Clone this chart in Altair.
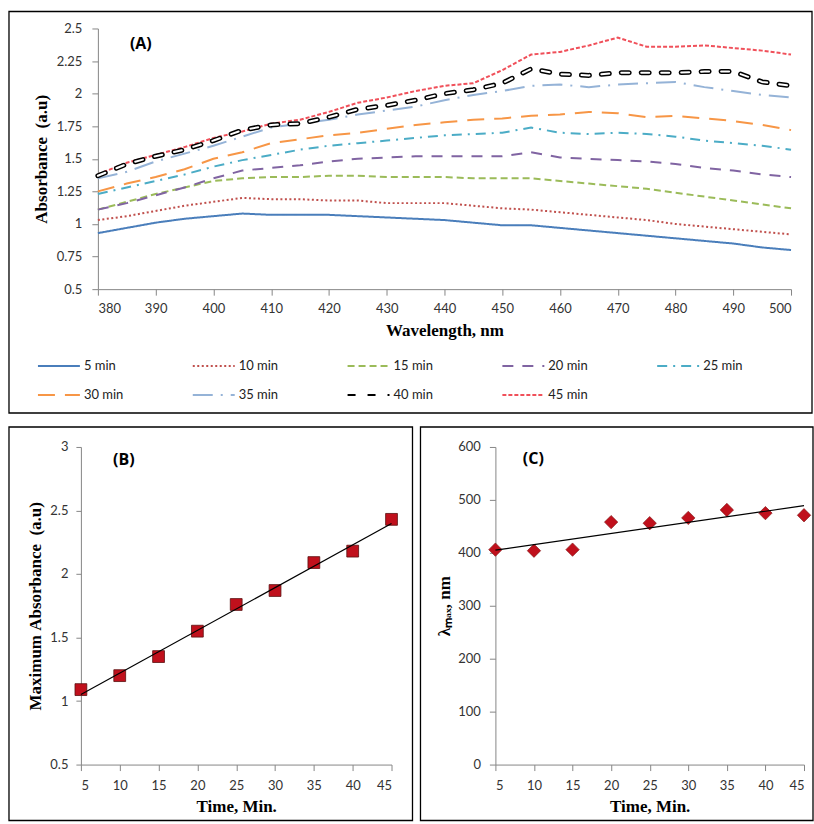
import altair as alt
import pandas as pd

# ---------------- data ----------------
WAVELENGTHS = list(range(380, 501, 5))
SERIES = ["5 min", "10 min", "15 min", "20 min", "25 min",
          "30 min", "35 min", "40 min", "45 min"]

ABS_5 = [0.93, 0.97, 1.01, 1.04, 1.06, 1.08, 1.07, 1.07, 1.07, 1.06, 1.05, 1.04, 1.03,
         1.01, 0.99, 0.99, 0.97, 0.95, 0.93, 0.91, 0.89, 0.87, 0.85, 0.82, 0.80]
ABS_10 = [1.03, 1.06, 1.10, 1.14, 1.17, 1.20, 1.19, 1.19, 1.18, 1.18, 1.16, 1.16, 1.16,
          1.14, 1.12, 1.11, 1.09, 1.07, 1.05, 1.03, 1.00, 0.98, 0.96, 0.94, 0.92]
ABS_15 = [1.11, 1.17, 1.23, 1.28, 1.33, 1.35, 1.36, 1.36, 1.37, 1.37, 1.36, 1.36, 1.36,
          1.35, 1.35, 1.35, 1.33, 1.31, 1.29, 1.27, 1.24, 1.21, 1.18, 1.15, 1.12]
ABS_20 = [1.11, 1.16, 1.22, 1.28, 1.35, 1.41, 1.43, 1.45, 1.48, 1.50, 1.51, 1.52, 1.52,
          1.52, 1.52, 1.55, 1.51, 1.50, 1.49, 1.48, 1.46, 1.43, 1.41, 1.38, 1.36]
ABS_25 = [1.23, 1.28, 1.33, 1.38, 1.44, 1.49, 1.53, 1.57, 1.60, 1.62, 1.64, 1.66, 1.68,
          1.69, 1.70, 1.74, 1.70, 1.69, 1.70, 1.69, 1.67, 1.64, 1.62, 1.60, 1.57]
ABS_30 = [1.25, 1.31, 1.36, 1.42, 1.50, 1.55, 1.62, 1.65, 1.68, 1.70, 1.73, 1.76, 1.78,
          1.80, 1.81, 1.83, 1.84, 1.86, 1.85, 1.82, 1.83, 1.81, 1.79, 1.76, 1.72]
ABS_35 = [1.35, 1.40, 1.48, 1.54, 1.60, 1.67, 1.74, 1.77, 1.80, 1.84, 1.87, 1.90, 1.95,
          1.99, 2.02, 2.06, 2.07, 2.05, 2.07, 2.08, 2.09, 2.05, 2.02, 1.99, 1.97]
ABS_40 = [1.37, 1.46, 1.52, 1.57, 1.64, 1.72, 1.76, 1.77, 1.82, 1.88, 1.91, 1.95, 2.00,
          2.03, 2.08, 2.19, 2.15, 2.14, 2.16, 2.16, 2.16, 2.17, 2.17, 2.09, 2.06]
ABS_45 = [1.38, 1.47, 1.53, 1.59, 1.66, 1.71, 1.77, 1.80, 1.86, 1.93, 1.97, 2.02, 2.06,
          2.08, 2.18, 2.30, 2.32, 2.37, 2.43, 2.36, 2.36, 2.37, 2.35, 2.33, 2.30]

TIMES = [5, 10, 15, 20, 25, 30, 35, 40, 45]
MAX_ABS = [1.09, 1.20, 1.35, 1.55, 1.76, 1.87, 2.09, 2.18, 2.43]
LAMBDA_MAX = [406, 404, 406, 458, 456, 466, 481, 475, 471]

A_YTICKS = [0.5, 0.75, 1, 1.25, 1.5, 1.75, 2, 2.25, 2.5]
A_XTICKS = list(range(380, 501, 10))
B_YTICKS = [0.5, 1, 1.5, 2, 2.5, 3]
C_YTICKS = [0, 100, 200, 300, 400, 500, 600]

# ---------------- styles ----------------
COLORS = ["#4A7EBB", "#C0504D", "#9BBB59", "#8064A2", "#4BACC6",
          "#F79646", "#95B3D7", "#000000", "#F0505A"]
DASHES = [[1, 0], [2, 2.5], [7, 4], [11, 9], [10, 6, 2, 6],
          [17, 10], [20, 8, 2, 8], [8, 12], [4, 2]]
WIDTHS = [2, 2, 2.2, 2.5, 2.2, 2.5, 2.2, 2, 2.6]

rows = []
for name, vals in zip(SERIES, [ABS_5, ABS_10, ABS_15, ABS_20, ABS_25,
                               ABS_30, ABS_35, ABS_40, ABS_45]):
    for w, v in zip(WAVELENGTHS, vals):
        rows.append({"wl": w, "abs": v, "series": name})
dfA = pd.DataFrame(rows)
dfB = pd.DataFrame({"t": TIMES, "v": MAX_ABS})
dfC = pd.DataFrame({"t": TIMES, "l": LAMBDA_MAX})
one = pd.DataFrame({"k": [0]})

TICK_FONT = "Lato"
TITLE_FONT = "Liberation Serif"
NB = "\u00a0"

# ---------------- panel A ----------------
WA, HA = 694, 261
xA = alt.X("wl:Q", scale=alt.Scale(domain=[380, 500], nice=False, zero=False),
           axis=alt.Axis(values=A_XTICKS, title="Wavelength, nm", tickSize=6,
                         labelPadding=7, titlePadding=7))
yA = alt.Y("abs:Q", scale=alt.Scale(domain=[0.5, 2.5], nice=False, zero=False),
           axis=alt.Axis(values=A_YTICKS, format=".3~g", title="Absorbance" + NB + NB + "(a.u)",
                         tickSize=6, labelPadding=10, titlePadding=6))

legA = alt.Legend(orient="none", legendX=-61, legendY=316, direction="horizontal",
                  columns=5, title=None, symbolType="stroke", symbolSize=1764,
                  symbolStrokeWidth=2, labelFont=TICK_FONT, labelFontSize=13,
                  labelColor="#222222", columnPadding=65, rowPadding=-38,
                  labelOffset=3, gridAlign="all")

lines = alt.Chart(dfA).mark_line().encode(
    x=xA, y=yA,
    color=alt.Color("series:N", scale=alt.Scale(domain=SERIES, range=COLORS), legend=legA),
    strokeDash=alt.StrokeDash("series:N", scale=alt.Scale(domain=SERIES, range=DASHES), legend=legA),
    strokeWidth=alt.StrokeWidth("series:N", scale=alt.Scale(domain=SERIES, range=WIDTHS), legend=None),
)
d40 = alt.Chart(dfA).transform_filter(alt.datum.series == "40 min")
outer40 = d40.mark_line(color="black", strokeWidth=5, strokeCap="round",
                        strokeDash=[8, 12]).encode(x=xA, y=yA)
inner40 = d40.mark_line(color="white", strokeWidth=2, strokeCap="round",
                        strokeDash=[8, 12]).encode(x=xA, y=yA)

boxA = alt.Chart(one).mark_rect(fillOpacity=0, stroke="black", strokeWidth=1.3).encode(
    x=alt.value(-89), x2=alt.value(715), y=alt.value(-17), y2=alt.value(385))
labA = alt.Chart(one).mark_text(text="(A)", font="Open Sans", fontWeight="bold",
                                fontSize=16, color="black").encode(
    x=alt.value(43), y=alt.value(16))

panelA = alt.layer(boxA, lines, outer40, inner40, labA).properties(width=WA, height=HA)

# ---------------- panel B ----------------
# the plot origin is shared with panel A (x = 97); the x range starts 17 px to its left
SHIFT_B = 17
WB, HB = 294, 318
xB = alt.X("t:Q", scale=alt.Scale(domain=[5, 45], nice=False, zero=False, range=[-SHIFT_B, WB]),
           axis=alt.Axis(values=TIMES, title="Time, Min.", tickSize=6,
                         labelPadding=9, titlePadding=6))
yB = alt.Y("v:Q", scale=alt.Scale(domain=[0.5, 3], nice=False, zero=False),
           axis=alt.Axis(values=B_YTICKS, format=".3~g", offset=SHIFT_B,
                         title="Maximum" + NB + "Absorbance" + NB + NB + "(a.u)",
                         tickSize=5, labelPadding=8, titlePadding=5))
ptsB = alt.Chart(dfB).mark_point(shape="square", filled=True, size=140, fill="#C0101C",
                                 stroke="#5a1010", strokeWidth=0.8, opacity=1).encode(x=xB, y=yB)
fitB = alt.Chart(dfB).transform_regression("t", "v").mark_line(
    color="black", strokeWidth=1.2).encode(x=xB, y=yB)
boxB = alt.Chart(one).mark_rect(fillOpacity=0, stroke="black", strokeWidth=1.3).encode(
    x=alt.value(-89), x2=alt.value(315), y=alt.value(-20), y2=alt.value(374))
labB = alt.Chart(one).mark_text(text="(B)", font="Open Sans", fontWeight="bold",
                                fontSize=16, color="black").encode(
    x=alt.value(26), y=alt.value(13))
panelB = alt.layer(boxB, ptsB, fitB, labB).properties(width=WB, height=HB)

# ---------------- panel C ----------------
WC, HC = 309, 318
xC = alt.X("t:Q", scale=alt.Scale(domain=[5, 45], nice=False, zero=False),
           axis=alt.Axis(values=TIMES, title="Time, Min.", tickSize=6,
                         labelPadding=9, titlePadding=6))
yC = alt.Y("l:Q", scale=alt.Scale(domain=[0, 600], nice=False, zero=True),
           axis=alt.Axis(values=C_YTICKS, title="λₘₐₓ, nm", tickSize=6,
                         labelPadding=9, titlePadding=4))
ptsC = alt.Chart(dfC).mark_point(shape="diamond", filled=True, size=180, fill="#C0101C",
                                 stroke="#7a1010", strokeWidth=0.6, opacity=1).encode(x=xC, y=yC)
fitC = alt.Chart(dfC).transform_regression("t", "l").mark_line(
    color="black", strokeWidth=1.2).encode(x=xC, y=yC)
boxC = alt.Chart(one).mark_rect(fillOpacity=0, stroke="black", strokeWidth=1.3).encode(
    x=alt.value(-75), x2=alt.value(318), y=alt.value(-20), y2=alt.value(374))
labC = alt.Chart(one).mark_text(text="(C)", font="Open Sans", fontWeight="bold",
                                fontSize=16, color="black").encode(
    x=alt.value(38), y=alt.value(12))
panelC = alt.layer(boxC, ptsC, fitC, labC).properties(width=WC, height=HC)

bottom = alt.hconcat(panelB, panelC, spacing=6)
chart = alt.vconcat(panelA, bottom, spacing=12).resolve_scale(
    color="independent", strokeDash="independent", strokeWidth="independent"
).properties(
    padding={"left": 8, "top": 10, "right": 0, "bottom": 0},
    background="white",
).configure_view(stroke=None).configure_axis(
    grid=False, domainColor="#868686", tickColor="#868686", domainWidth=1,
    labelFont=TICK_FONT, labelFontSize=13, labelColor="#333333",
    titleFont=TITLE_FONT, titleFontWeight="bold", titleFontSize=17, titleColor="black",
)

chart.save("out.html", embed_options={"renderer": "svg", "actions": False})
